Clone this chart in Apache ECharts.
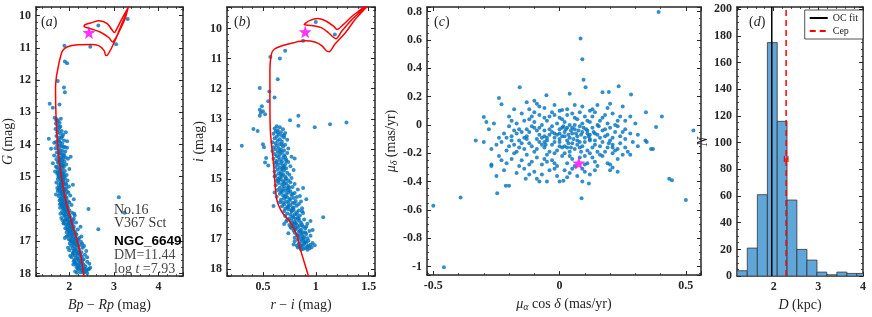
<!DOCTYPE html>
<html><head><meta charset="utf-8">
<script src="https://cdn.jsdelivr.net/npm/echarts@6/dist/echarts.min.js"></script>
<style>html,body{margin:0;padding:0;background:#fff}#c{width:872px;height:317px}</style>
</head><body><div id="c"></div>
<script>
// ---------- DATA ----------
const cmdGPoints = [
[1.90,11.43],[1.95,11.48],[1.74,12.03],[1.88,12.23],[1.90,12.38],[1.56,12.74],[1.63,12.86],[1.78,12.76],[1.67,13.17],[1.89,10.94],[2.47,10.97],[2.65,10.31],[3.31,10.11],[3.05,10.89],[1.71,13.25],
[1.72,13.22],[1.75,13.28],[1.70,13.35],[1.78,13.33],[1.74,13.41],[1.80,13.45],[1.69,13.52],[1.76,13.55],[1.83,13.58],[1.73,13.62],[1.79,13.66],[1.86,13.70],[1.71,13.74],[1.77,13.78],[1.82,13.80],[1.75,13.86],[1.88,13.88],[1.70,13.92],[1.79,13.95],[1.84,13.98],[1.92,13.62],[1.95,13.90],[1.66,13.95],[1.77,13.47],[1.81,13.20],
[1.73,14.02],[1.78,14.04],[1.82,14.06],[1.87,14.08],[1.95,14.10],[1.69,14.12],[1.76,14.15],[1.80,14.18],[1.85,14.20],[1.91,14.22],[1.72,14.25],[1.79,14.27],[1.83,14.30],[1.88,14.32],[1.66,14.34],[1.75,14.37],[1.81,14.40],[1.86,14.42],[1.97,14.44],[1.71,14.46],[1.78,14.48],[1.84,14.50],[1.89,14.52],[1.74,14.55],[1.80,14.57],[1.63,14.58],[1.86,14.60],[1.93,14.62],[1.77,14.64],[1.82,14.67],[1.88,14.69],[1.72,14.71],[1.79,14.73],[1.85,14.75],[2.00,14.76],[1.75,14.78],[1.81,14.80],[1.90,14.82],[1.68,14.84],[1.78,14.86],[1.84,14.88],[1.87,14.90],[1.73,14.91],[1.80,14.93],[1.94,14.95],[1.76,14.97],[1.83,14.98],[1.89,14.99],[1.59,14.13],[1.54,13.82],[2.03,14.38],[1.70,14.68],[1.92,14.40],
[1.78,15.01],[1.84,15.03],[1.90,15.05],[1.74,15.07],[1.82,15.09],[1.87,15.10],[1.96,15.12],[1.79,15.14],[1.85,15.16],[1.71,15.18],[1.92,15.20],[1.81,15.22],[1.88,15.24],[1.76,15.26],[1.84,15.28],[1.99,15.30],[1.80,15.32],[1.86,15.34],[1.93,15.36],[1.77,15.38],[1.83,15.40],[1.89,15.42],[1.74,15.44],[1.95,15.46],[1.82,15.48],[1.87,15.50],[1.79,15.52],[1.91,15.54],[1.85,15.56],[2.02,15.58],[1.76,15.60],[1.83,15.62],[1.88,15.64],[1.94,15.66],[1.80,15.68],[1.86,15.70],[1.91,15.72],[1.78,15.74],[1.97,15.76],[1.84,15.78],[1.89,15.80],[1.81,15.82],[1.93,15.84],[1.87,15.86],[2.05,15.88],[1.83,15.90],[1.90,15.92],[1.95,15.94],[1.79,15.96],[1.86,15.98],[1.92,15.99],[1.73,15.35],[1.70,15.55],[2.08,15.25],[2.10,15.70],[1.98,15.50],[1.96,15.90],[1.83,15.20],[1.88,15.58],[1.85,15.45],[3.11,15.64],[2.43,16.00],
[1.88,16.01],[1.94,16.03],[2.00,16.05],[1.84,16.07],[1.91,16.09],[1.97,16.10],[2.06,16.12],[1.86,16.14],[1.93,16.16],[1.99,16.18],[2.12,16.20],[1.89,16.22],[1.96,16.24],[2.02,16.26],[1.82,16.28],[1.92,16.30],[1.98,16.32],[2.08,16.34],[1.90,16.36],[1.95,16.38],[2.03,16.40],[2.15,16.42],[1.87,16.44],[1.99,16.46],[2.05,16.48],[1.93,16.50],[2.01,16.52],[2.10,16.54],[1.96,16.56],[2.04,16.58],[1.91,16.60],[2.07,16.62],[2.19,16.64],[1.98,16.66],[2.02,16.68],[2.12,16.70],[1.94,16.72],[2.05,16.74],[2.09,16.76],[2.00,16.78],[2.16,16.80],[1.97,16.82],[2.06,16.84],[2.13,16.86],[2.03,16.88],[2.22,16.90],[2.08,16.92],[1.99,16.94],[2.11,16.96],[2.17,16.98],[2.04,16.99],[1.85,16.35],[1.80,16.15],[2.25,16.55],[2.27,16.85],[2.00,16.40],[1.95,16.62],[2.10,16.30],[2.14,16.75],[2.07,16.45],[3.24,16.12],[2.65,16.63],[1.90,16.90],
[2.06,17.01],[2.12,17.03],[2.18,17.05],[2.01,17.07],[2.09,17.09],[2.15,17.10],[2.24,17.12],[2.04,17.14],[2.11,17.16],[2.20,17.18],[2.30,17.20],[2.07,17.22],[2.14,17.24],[2.22,17.26],[2.00,17.28],[2.10,17.30],[2.17,17.32],[2.27,17.34],[2.08,17.36],[2.16,17.38],[2.24,17.40],[2.35,17.42],[2.12,17.44],[2.19,17.46],[2.28,17.48],[2.05,17.50],[2.15,17.52],[2.23,17.54],[2.32,17.56],[2.11,17.58],[2.20,17.60],[2.27,17.62],[2.40,17.64],[2.14,17.66],[2.22,17.68],[2.30,17.70],[2.09,17.72],[2.18,17.74],[2.26,17.76],[2.36,17.78],[2.16,17.80],[2.24,17.82],[2.33,17.84],[2.44,17.86],[2.20,17.88],[2.28,17.90],[2.38,17.92],[2.13,17.94],[2.25,17.96],[2.31,17.98],[2.42,17.88],[2.47,17.82],[2.35,17.95],[2.02,17.45],[1.97,17.20],[2.38,17.30],[2.33,17.15],[2.40,17.50],[2.29,17.08],[2.19,17.85],[2.10,17.62],[2.45,17.70],[2.22,17.35],[2.26,17.02],
[1.77,14.53],[1.83,14.63],[1.79,14.85],[1.86,14.94],[1.74,14.87],[1.82,14.45],[1.76,14.26],[1.87,14.35],[1.80,15.05],[1.86,15.15],[1.81,15.29],[1.78,15.43],[1.90,15.39],[1.84,15.53],[1.92,15.63],[1.87,15.75],[1.82,15.71],[1.90,15.87],[1.97,15.97],[1.85,15.93],[1.93,16.07],[1.89,16.19],[2.00,16.21],[1.95,16.33],[2.05,16.37],[1.97,16.47],[2.02,16.57],[2.09,16.60],[2.00,16.71],[2.07,16.80],[2.14,16.91],[2.02,16.97],[2.10,17.05],[2.17,17.13],[2.13,17.27],[2.20,17.37],[2.26,17.45],[2.18,17.55],[2.25,17.65],[2.32,17.73],[2.21,17.77],[2.29,17.87],[2.36,17.86],[2.17,17.98],[2.40,17.99],[2.08,17.40],[2.13,17.70],[2.30,17.58],[1.94,16.85],[2.20,16.95],[2.06,16.65],[1.88,16.45],[2.11,16.15],[2.00,15.80],[1.79,15.85],[1.93,15.25],[1.76,14.99],[1.85,14.65],[1.90,14.08],[1.84,13.75],[1.78,13.90]
];
const isoG = [
[2.36,18.30],[2.33,18.07],[2.22,17.21],[2.07,16.50],[1.93,15.80],[1.82,14.99],[1.74,14.08],[1.70,13.06],[1.69,12.25],[1.71,11.90],[1.73,11.75],[1.78,11.40],[1.85,11.09],[1.96,10.97],[2.19,10.91],[2.48,10.90],[2.67,10.94],[2.78,11.09],[2.82,11.24],[2.86,11.22],[2.95,11.00],[3.10,10.55],[3.25,10.10],[3.33,9.71],[3.40,9.45],[3.45,9.40],
[3.38,9.50],[3.28,9.93],[3.18,10.25],[3.11,10.49],[3.04,10.70],[2.97,10.82],[2.89,10.69],[2.70,10.52],[2.48,10.41],[2.33,10.33],[2.36,10.28],[2.48,10.23],[2.67,10.16],[2.85,10.25],[2.96,10.45],[3.01,10.53],[3.07,10.40],[3.15,10.18],[3.31,9.78],[3.40,9.55]
];
const starG = [2.44, 10.53];

const cmdIPoints = [
[0.71,10.74],[0.57,10.95],[0.66,11.00],[0.64,11.69],[0.47,11.98],[0.56,12.09],[0.61,12.29],[0.55,12.42],[0.49,12.58],[0.47,12.70],[0.48,12.80],[0.50,12.75],[0.47,12.90],[0.52,12.85],[0.835,12.90],[0.756,13.05],[0.835,13.23],[0.99,13.28],[1.135,13.18],[1.29,13.12],[0.30,13.90],[0.41,13.34],[0.45,13.41],[1.00,9.78],[1.18,10.20],[0.88,10.41],
[0.63,13.25],[0.66,13.28],[0.61,13.32],[0.69,13.35],[0.64,13.38],[0.62,13.42],[0.67,13.45],[0.71,13.47],[0.60,13.50],[0.65,13.53],[0.68,13.56],[0.63,13.60],[0.70,13.62],[0.61,13.65],[0.66,13.68],[0.73,13.70],[0.64,13.73],[0.68,13.76],[0.59,13.78],[0.62,13.81],[0.66,13.84],[0.71,13.86],[0.63,13.89],[0.69,13.92],[0.60,13.95],[0.65,13.97],[0.74,13.99],[0.50,13.85],[0.51,13.95],
[0.62,14.01],[0.67,14.03],[0.70,14.05],[0.59,14.07],[0.64,14.10],[0.68,14.12],[0.73,14.14],[0.61,14.17],[0.66,14.19],[0.70,14.21],[0.63,14.24],[0.77,14.26],[0.65,14.28],[0.69,14.30],[0.60,14.33],[0.72,14.35],[0.66,14.37],[0.80,14.32],[0.63,14.40],[0.68,14.42],[0.74,14.44],[0.61,14.47],[0.67,14.49],[0.71,14.51],[0.64,14.53],[0.69,14.56],[0.76,14.58],[0.62,14.60],[0.66,14.62],[0.72,14.64],[0.68,14.67],[0.64,14.69],[0.79,14.70],[0.70,14.72],[0.61,14.75],[0.67,14.77],[0.73,14.79],[0.65,14.82],[0.69,14.84],[0.75,14.86],[0.62,14.88],[0.68,14.90],[0.71,14.92],[0.66,14.95],[0.77,14.97],[0.64,14.99],[0.53,14.30],[0.55,14.55],[0.52,14.45],
[0.67,15.01],[0.71,15.03],[0.74,15.05],[0.63,15.07],[0.69,15.09],[0.76,15.11],[0.65,15.13],[0.72,15.15],[0.80,15.17],[0.68,15.19],[0.62,15.21],[0.74,15.23],[0.70,15.25],[0.78,15.27],[0.66,15.29],[0.73,15.31],[0.69,15.33],[0.83,15.35],[0.64,15.37],[0.71,15.39],[0.76,15.41],[0.68,15.43],[0.74,15.45],[0.80,15.47],[0.66,15.49],[0.72,15.51],[0.77,15.53],[0.69,15.55],[0.85,15.57],[0.63,15.59],[0.73,15.61],[0.79,15.63],[0.70,15.65],[0.91,15.67],[0.67,15.69],[0.75,15.71],[0.81,15.73],[0.72,15.75],[0.66,15.77],[0.78,15.79],[0.74,15.81],[0.84,15.83],[0.70,15.85],[0.76,15.87],[0.82,15.89],[0.68,15.91],[0.73,15.93],[0.79,15.95],[0.87,15.97],[0.71,15.99],[0.61,15.45],[0.88,15.30],[0.86,15.75],[0.60,15.90],
[0.74,16.01],[0.79,16.03],[0.84,16.05],[0.70,16.07],[0.77,16.09],[0.82,16.11],[0.88,16.13],[0.73,16.15],[0.80,16.17],[0.76,16.19],[0.85,16.21],[0.71,16.23],[0.78,16.25],[1.07,16.27],[0.83,16.29],[0.75,16.31],[0.81,16.33],[0.89,16.35],[0.77,16.37],[0.84,16.39],[0.72,16.41],[0.80,16.43],[0.86,16.45],[0.78,16.47],[0.92,16.49],[0.82,16.51],[0.75,16.53],[0.85,16.55],[0.79,16.57],[0.88,16.59],[0.83,16.61],[0.77,16.63],[0.90,16.65],[0.81,16.67],[0.86,16.69],[0.79,16.71],[0.94,16.73],[0.84,16.75],[0.88,16.77],[0.80,16.79],[0.86,16.81],[0.91,16.83],[0.82,16.85],[0.87,16.87],[0.95,16.89],[0.84,16.91],[0.89,16.93],[0.80,16.95],[0.92,16.97],[0.86,16.99],[0.70,16.50],[0.95,16.40],[0.74,16.80],[0.97,16.70],
[0.83,17.01],[0.88,17.03],[0.93,17.05],[0.80,17.07],[0.86,17.09],[0.91,17.11],[0.97,17.13],[0.84,17.15],[0.89,17.17],[0.95,17.19],[0.82,17.21],[0.87,17.23],[0.92,17.25],[0.99,17.20],[0.85,17.27],[0.90,17.29],[0.94,17.31],[0.88,17.33],[0.92,17.35],[0.79,17.18],[0.96,17.27],[0.86,17.34],
[0.66,14.08],[0.71,14.27],[0.63,14.45],[0.70,14.60],[0.67,14.85],[0.72,14.98],[0.70,15.14],[0.75,15.28],[0.67,15.40],[0.78,15.50],[0.71,15.58],[0.76,15.66],[0.69,15.78],[0.80,15.81],[0.74,15.92],[0.77,16.04],[0.82,16.18],[0.79,16.28],[0.84,16.32],[0.81,16.46],[0.87,16.52],[0.81,16.62],[0.85,16.72],[0.90,16.78],[0.83,16.88],[0.88,16.96],[0.90,17.07],[0.86,17.20],[0.93,17.22],[0.89,17.12],[0.73,16.35],[0.76,16.60],[0.78,15.97],[0.82,15.60],[0.65,15.05],[0.72,14.40],[0.68,13.86],[0.64,13.46],[0.70,13.55],[0.74,15.37],[0.79,16.50],[0.83,17.28],[0.91,16.58],[0.87,16.07],[0.69,14.64],[0.61,14.92]
];
const isoI = [
[0.95,18.50],[0.93,18.22],[0.85,17.29],[0.82,16.86],[0.756,16.43],[0.68,16.10],[0.63,15.67],[0.60,14.48],[0.57,13.39],[0.566,12.31],[0.566,11.44],[0.58,10.85],[0.61,10.68],[0.68,10.57],[0.79,10.47],[0.90,10.41],[0.99,10.45],[1.056,10.57],[1.10,10.74],[1.126,10.77],[1.18,10.52],[1.28,10.14],[1.37,9.71],[1.47,9.33],[1.52,9.15],[1.55,9.05],
[1.50,9.12],[1.47,9.27],[1.42,9.44],[1.34,9.71],[1.245,10.09],[1.19,10.34],[1.17,10.30],[1.12,10.14],[1.056,9.98],[0.96,9.90],[0.89,9.87],[0.945,9.73],[1.02,9.67],[1.10,9.76],[1.17,9.93],[1.20,10.03],[1.26,9.87],[1.34,9.60],[1.44,9.33],[1.50,9.15]
];
const starI = [0.90, 10.11];

const pmPoints = [
[-0.24,0.19],[-0.23,0.145],[-0.158,0.266],[-0.10,0.17],[-0.09,0.15],[-0.13,0.16],[-0.06,0.12],[-0.052,0.209],[-0.02,0.14],[0.04,0.22],[0.03,0.11],[0.06,0.14],[0.09,0.13],[0.12,0.10],[0.15,0.14],[0.19,0.12],[0.195,0.232],[0.234,0.273],[0.283,0.215],[0.25,0.13],[0.20,0.15],[-0.18,0.11],[0.00,0.10],[-0.30,0.055],[-0.29,0.02],[0.342,0.09],[0.405,0.06],[0.17,0.23],[0.01,0.105],[-0.12,0.11],
[-0.20,0.06],[-0.15,0.08],[-0.12,0.04],[-0.08,0.07],[-0.05,0.03],[-0.03,0.09],[0.00,0.05],[0.02,0.02],[0.05,0.08],[0.07,0.04],[0.10,0.06],[0.12,0.02],[0.14,0.09],[0.17,0.05],[0.19,0.01],[0.21,0.08],[0.23,0.03],[0.26,0.03],[0.30,0.01],[-0.17,0.01],[-0.14,0.03],[-0.10,0.09],[-0.07,0.00],[-0.04,0.06],[-0.01,0.01],[0.03,0.07],[0.06,0.00],[0.08,0.09],[0.11,0.03],[0.15,0.00],[0.18,0.07],[0.22,0.00],[-0.19,0.03],[-0.26,0.01],[-0.28,-0.03],[-0.11,0.06],[0.01,0.04],[0.09,0.01],[0.13,0.06],[0.24,0.06],[-0.06,0.05],[0.04,0.00],[-0.02,0.07],[0.16,0.03],[0.28,0.06],
[-0.22,-0.06],[-0.19,-0.08],[-0.16,-0.03],[-0.14,-0.09],[-0.12,-0.05],[-0.10,-0.02],[-0.08,-0.07],[-0.06,-0.04],[-0.05,-0.09],[-0.03,-0.01],[-0.02,-0.06],[0.00,-0.03],[0.01,-0.08],[0.02,-0.05],[0.03,-0.02],[0.04,-0.09],[0.05,-0.06],[0.06,-0.03],[0.07,-0.08],[0.08,-0.01],[0.09,-0.05],[0.10,-0.09],[0.11,-0.04],[0.12,-0.07],[0.13,-0.02],[0.14,-0.06],[0.16,-0.09],[0.17,-0.04],[0.19,-0.07],[0.20,-0.02],[0.22,-0.05],[0.24,-0.08],[0.26,-0.03],[0.28,-0.06],[0.31,-0.07],[-0.24,-0.09],[-0.20,-0.01],[-0.17,-0.06],[-0.13,-0.08],[-0.11,-0.01],[-0.09,-0.04],[-0.07,-0.09],[-0.04,-0.03],[-0.01,-0.07],[0.015,-0.01],[0.035,-0.07],[0.055,-0.10],[0.075,-0.04],[0.095,-0.02],[0.115,-0.08],[0.135,-0.05],[0.155,-0.01],[0.18,-0.08],[0.21,-0.09],[0.23,-0.01],[0.25,-0.05],[-0.15,-0.05],[-0.02,-0.09],[0.045,-0.04],[0.085,-0.07],[0.00,-0.10],[-0.06,-0.08],[0.025,-0.03],[0.065,-0.06],[0.105,-0.03],[0.15,-0.07],[-0.08,-0.02],[-0.03,-0.05],[0.01,-0.02],[0.12,-0.10],[0.382,-0.014],[-0.18,-0.04],
[-0.27,-0.17],[-0.23,-0.12],[-0.21,-0.18],[-0.18,-0.14],[-0.16,-0.11],[-0.14,-0.17],[-0.12,-0.13],[-0.10,-0.19],[-0.08,-0.12],[-0.06,-0.16],[-0.05,-0.11],[-0.03,-0.14],[-0.01,-0.18],[0.00,-0.12],[0.02,-0.15],[0.03,-0.11],[0.05,-0.13],[0.06,-0.17],[0.08,-0.12],[0.09,-0.15],[0.11,-0.18],[0.12,-0.11],[0.14,-0.14],[0.15,-0.19],[0.17,-0.12],[0.19,-0.16],[0.20,-0.11],[0.22,-0.18],[0.24,-0.13],[0.26,-0.16],[0.29,-0.12],[0.34,-0.11],[-0.25,-0.14],[-0.20,-0.15],[-0.17,-0.19],[-0.13,-0.10],[-0.11,-0.15],[-0.09,-0.17],[-0.07,-0.14],[-0.04,-0.19],[-0.02,-0.12],[0.01,-0.16],[0.04,-0.19],[0.07,-0.14],[0.10,-0.12],[0.13,-0.16],[0.16,-0.15],[0.18,-0.19],[0.21,-0.14],[0.23,-0.17],[0.27,-0.19],[0.31,-0.15],[0.362,-0.17],[0.345,-0.12],[-0.15,-0.13],[0.035,-0.13],[-0.055,-0.14],[0.085,-0.19],[0.195,-0.13],[-0.19,-0.11],[0.00,-0.15],[0.045,-0.16],[-0.30,-0.12],[-0.332,-0.11],[0.12,-0.20],[0.07,-0.11],
[-0.27,-0.28],[-0.27,-0.29],[-0.24,-0.22],[-0.21,-0.27],[-0.19,-0.24],[-0.16,-0.29],[-0.13,-0.21],[-0.11,-0.26],[-0.09,-0.23],[-0.07,-0.28],[-0.05,-0.21],[-0.03,-0.25],[-0.01,-0.29],[0.01,-0.22],[0.03,-0.27],[0.05,-0.24],[0.06,-0.29],[0.10,-0.22],[0.11,-0.27],[0.13,-0.23],[0.15,-0.29],[0.17,-0.22],[0.19,-0.27],[0.21,-0.30],[0.23,-0.24],[0.25,-0.21],[0.28,-0.21],[-0.23,-0.25],[-0.18,-0.20],[-0.12,-0.28],[-0.06,-0.24],[0.02,-0.20],[0.08,-0.23],[0.14,-0.26],[0.20,-0.28],[0.21,-0.20],[-0.02,-0.27],[-0.15,-0.25],[0.16,-0.21],
[-0.25,-0.36],[-0.22,-0.32],[-0.20,-0.43],[-0.17,-0.34],[-0.14,-0.31],[-0.134,-0.38],[-0.10,-0.33],[-0.09,-0.38],[-0.07,-0.35],[-0.05,-0.40],[-0.04,-0.32],[-0.01,-0.36],[0.00,-0.40],[0.02,-0.32],[0.03,-0.37],[0.04,-0.34],[0.05,-0.31],[0.07,-0.36],[0.09,-0.40],[0.10,-0.33],[0.116,-0.414],[0.12,-0.35],[0.14,-0.32],[0.09,-0.31],[-0.12,-0.35],[0.20,-0.32],[0.23,-0.33],[-0.02,-0.31],[0.015,-0.395],[-0.08,-0.40],
[0.392,0.796],[0.083,0.61],[0.09,0.463],[0.095,0.318],[0.103,0.266],[0.53,-0.04],[0.50,-0.53],[0.434,-0.38],[0.445,-0.39],[-0.50,-0.57],[-0.458,-1.004],[-0.392,-0.513],[-0.247,-0.483],[-0.213,-0.43],[0.087,-0.518],[0.37,-0.17],
[-0.04,-0.07],[0.02,-0.08],[0.05,-0.02],[-0.09,-0.10],[0.11,-0.06],[-0.13,-0.03],[0.14,-0.11],[0.03,-0.16],[-0.06,-0.12],[0.08,-0.16],[-0.02,-0.20],[0.18,-0.03],[-0.10,0.02],[0.06,0.05],[0.00,-0.06],[-0.16,-0.16],[0.21,-0.16],[-0.05,-0.26],[0.10,-0.28],[0.26,-0.10],[-0.21,-0.09],[0.13,0.11],[-0.08,0.13],[0.04,-0.22]
];
const starPM = [0.076, -0.27];

const binEdges = [1.18,1.41,1.635,1.86,2.08,2.30,2.52,2.745,2.97,3.19,3.415,3.64,3.86,4.08];
const binCounts = [4,21,61,175,116,57,20,12,3,1,3,2,2];
const ocFitD = 1.958;
const cepD = 2.279;
const cepErr = [2.24, 2.32];
const cepErrY = 87.8;

// ---------- STYLE / LAYOUT ----------
const SERIF = 'Liberation Serif';
const AX = '#262626';
const BLUE = '#0072BD';
const STAR = 'path://M0,-10 L2.35,-3.24 L9.51,-3.09 L3.8,1.24 L5.88,8.09 L0,4 L-5.88,8.09 L-3.8,1.24 L-9.51,-3.09 L-2.35,-3.24 Z';
const TOP = 7, H = 275;
const grids = [
  {left:34, top:TOP, width:149, height:H},
  {left:227, top:TOP, width:148, height:H},
  {left:427, top:TOP, width:274, height:H},
  {left:737, top:TOP, width:126, height:H}
];
const richName = {
  i:{fontStyle:'italic', fontFamily:SERIF, fontSize:14, color:AX},
  s:{fontStyle:'italic', fontFamily:SERIF, fontSize:10, color:AX, verticalAlign:'bottom', lineHeight:16}
};
function axis(kind, g, min, max, split, minorN, pos, name, gap, opt) {
  opt = opt || {};
  const main = (pos === 'bottom' || pos === 'left');
  return {
    type:'value', gridIndex:g, min:min, max:max, splitNumber:split, position:pos,
    inverse: !!opt.inverse,
    axisLine:{show:true, onZero:false, lineStyle:{color:AX, width:1.5}},
    axisTick:{show:true, inside:true, length:4, lineStyle:{color:AX, width:1}},
    minorTick:{show:true, splitNumber:minorN, length:2, lineStyle:{color:AX, width:0.8}},
    splitLine:{show:false}, minorSplitLine:{show:false},
    axisLabel: main ? {show:true, margin:5, fontFamily:SERIF, fontWeight:'bold', fontSize:12, color:AX,
       showMinLabel: !!opt.showMin, showMaxLabel: !!opt.showMax} : {show:false},
    name: main ? name : '', nameLocation:'middle', nameGap: gap,
    nameTextStyle:{fontFamily:SERIF, fontSize:14, color:AX, rich:richName}
  };
}
const xAxes = [
  axis('x',0,1.25,4.55,3,5,'bottom','{i|Bp} − {i|Rp} (mag)',17),
  axis('x',0,1.25,4.55,3,5,'top'),
  axis('x',1,0.16,1.56,3,5,'bottom','{i|r} − {i|i} (mag)',17),
  axis('x',1,0.16,1.56,3,5,'top'),
  axis('x',2,-0.525,0.56,2,5,'bottom','{i|μ}{s|α} cos {i|δ} (mas/yr)',17),
  axis('x',2,-0.525,0.56,2,5,'top'),
  axis('x',3,1.18,4,3,5,'bottom','{i|D} (kpc)',17,{showMax:true}),
  axis('x',3,1.18,4,3,5,'top')
];
const yAxes = [
  axis('y',0,9.736,18.082,8,5,'left','{i|G} (mag)',15,{inverse:true}),
  axis('y',0,9.736,18.082,8,5,'right','',0,{inverse:true}),
  axis('y',1,9.285,18.228,8,5,'left','{i|i} (mag)',17,{inverse:true}),
  axis('y',1,9.285,18.228,8,5,'right','',0,{inverse:true}),
  axis('y',2,-1.06,0.832,9,4,'left','{i|μ}{s|δ} (mas/yr)',19),
  axis('y',2,-1.06,0.832,9,4,'right'),
  axis('y',3,0,201.7,10,4,'left','{i|N}',24,{showMin:true}),
  axis('y',3,0,201.7,10,4,'right')
];

const histData = binCounts.map((c, k) => [binEdges[k], binEdges[k+1], c]);

const series = [
  {type:'scatter', xAxisIndex:0, yAxisIndex:0, data:cmdGPoints, symbolSize:4, itemStyle:{color:BLUE}, z:2},
  {type:'line', xAxisIndex:0, yAxisIndex:0, data:isoG, showSymbol:false, symbol:'none', clip:true, smooth:0.3, lineStyle:{color:'#ff0000', width:1.5}, z:3},
  {type:'scatter', xAxisIndex:0, yAxisIndex:0, data:[starG], symbol:STAR, symbolSize:13, itemStyle:{color:'#ff00ff'}, z:4},
  {type:'scatter', xAxisIndex:2, yAxisIndex:2, data:cmdIPoints, symbolSize:4, itemStyle:{color:BLUE}, z:2},
  {type:'line', xAxisIndex:2, yAxisIndex:2, data:isoI, showSymbol:false, symbol:'none', clip:true, smooth:0.3, lineStyle:{color:'#ff0000', width:1.5}, z:3},
  {type:'scatter', xAxisIndex:2, yAxisIndex:2, data:[starI], symbol:STAR, symbolSize:13, itemStyle:{color:'#ff00ff'}, z:4},
  {type:'scatter', xAxisIndex:4, yAxisIndex:4, data:pmPoints, symbolSize:4, itemStyle:{color:BLUE}, z:2},
  {type:'scatter', xAxisIndex:4, yAxisIndex:4, data:[starPM], symbol:STAR, symbolSize:13, itemStyle:{color:'#ff00ff'}, z:4},
  {type:'custom', xAxisIndex:6, yAxisIndex:6, data:histData, clip:true, z:2,
    encode:{x:[0,1], y:2},
    renderItem:function(params, api){
      const p1 = api.coord([api.value(0), api.value(2)]);
      const p2 = api.coord([api.value(1), 0]);
      return {type:'rect', shape:{x:p1[0], y:p1[1], width:p2[0]-p1[0], height:p2[1]-p1[1]},
        style:{fill:'#5fa6d9', stroke:'#333333', lineWidth:0.8}};
    }},
  {type:'line', name:'OC fit', xAxisIndex:6, yAxisIndex:6, data:[[ocFitD,0],[ocFitD,201.7]], symbol:'none', showSymbol:false,
    itemStyle:{color:'#000000'}, lineStyle:{color:'#000000', width:1.5}, z:5},
  {type:'line', name:'Cep', xAxisIndex:6, yAxisIndex:6, data:[[cepD,0],[cepD,201.7]], symbol:'none', showSymbol:false,
    itemStyle:{color:'#ff0000'}, lineStyle:{color:'#ff0000', width:1.5, type:[6,4]}, z:5},
  {type:'custom', xAxisIndex:6, yAxisIndex:6, data:[[cepErr[0], cepErr[1], cepErrY]], z:6,
    renderItem:function(params, api){
      const a = api.coord([api.value(0), api.value(2)]);
      const b = api.coord([api.value(1), api.value(2)]);
      const st = {stroke:'#ff0000', lineWidth:1.2};
      return {type:'group', children:[
        {type:'line', shape:{x1:a[0], y1:a[1], x2:b[0], y2:b[1]}, style:st},
        {type:'line', shape:{x1:a[0], y1:a[1]-3, x2:a[0], y2:a[1]+3}, style:st},
        {type:'line', shape:{x1:b[0], y1:b[1]-3, x2:b[0], y2:b[1]+3}, style:st}
      ]};
    }}
];

function ptxt(x, y, letter) {
  return {type:'text', x:x, y:y, z:100, style:{text:'({i|'+letter+'})', fontFamily:SERIF, fontSize:14, fill:AX,
    verticalAlign:'middle', rich:{i:{fontStyle:'italic', fontFamily:SERIF, fontSize:14, color:AX}}}};
}
const graphics = [
  ptxt(41, 22, 'a'), ptxt(234, 22, 'b'), ptxt(434, 22, 'c'), ptxt(749, 22, 'd'),
  {type:'text', x:114, y:210, z:100, style:{text:'No.16', fontFamily:SERIF, fontSize:14, fill:'#3a3a3a', verticalAlign:'middle'}},
  {type:'text', x:114, y:223, z:100, style:{text:'V367 Sct', fontFamily:SERIF, fontSize:14, fill:'#3a3a3a', verticalAlign:'middle'}},
  {type:'text', x:114, y:241, z:100, style:{text:'NGC_6649', fontFamily:'Liberation Sans', fontWeight:'bold', fontSize:13.5, fill:'#000', verticalAlign:'middle'}},
  {type:'text', x:114, y:255, z:100, style:{text:'DM=11.44', fontFamily:SERIF, fontSize:14, fill:'#4a4a4a', verticalAlign:'middle'}},
  {type:'text', x:114, y:269, z:100, style:{text:'log {i|t} =7.93', fontFamily:SERIF, fontSize:14, fill:'#4a4a4a', verticalAlign:'middle',
     rich:{i:{fontStyle:'italic', fontFamily:SERIF, fontSize:14, color:'#4a4a4a'}}}}
];

const chart = echarts.init(document.getElementById('c'), null, {renderer:'canvas'});
chart.setOption({
  animation:false,
  backgroundColor:'#ffffff',
  grid: grids,
  xAxis: xAxes,
  yAxis: yAxes,
  legend:{data:['OC fit','Cep'], orient:'vertical', right:9, top:10, padding:[3,5,3,4], itemGap:3,
    itemWidth:18, itemHeight:8, backgroundColor:'#fff', borderColor:AX, borderWidth:0.8, borderRadius:0,
    itemStyle:{opacity:0},
    textStyle:{fontFamily:SERIF, fontSize:10, color:AX}},
  series: series,
  graphic: graphics
});
</script></body></html>
